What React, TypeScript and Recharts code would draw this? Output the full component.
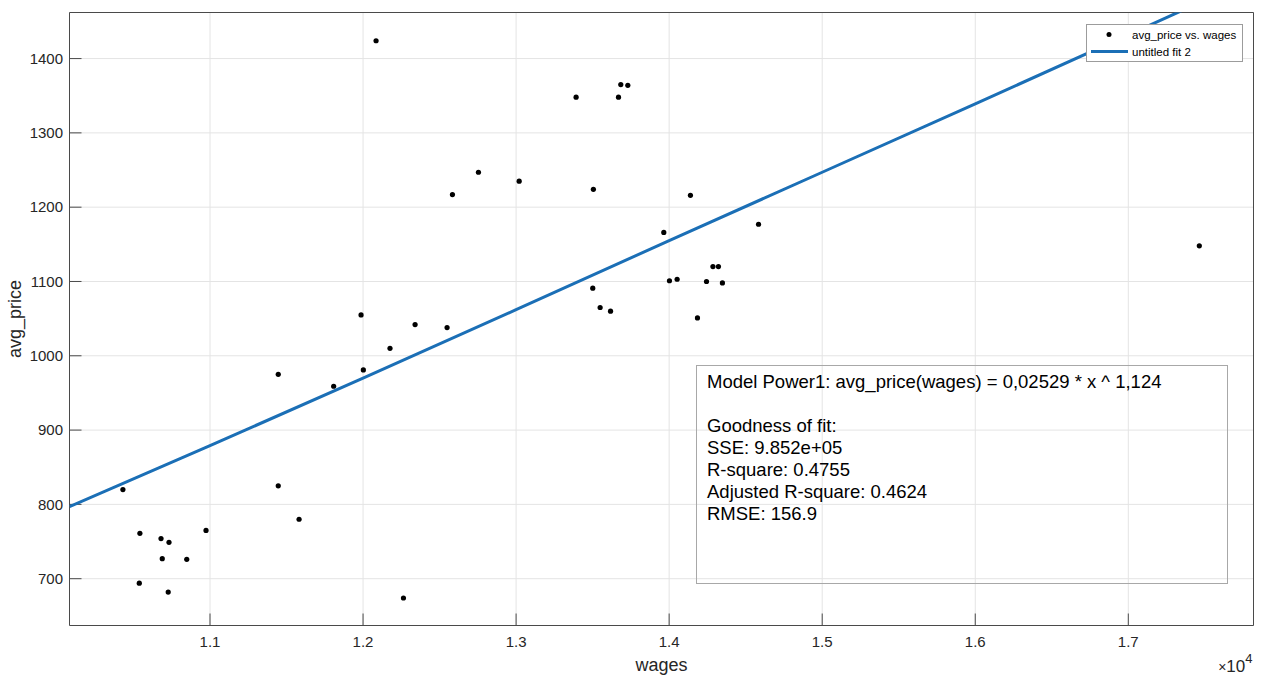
import React from 'react';
import { ScatterChart, Scatter, XAxis, YAxis, CartesianGrid, Legend } from 'recharts';

const wages = [10431, 10542, 10538, 10680, 10732, 10688, 10727, 10848, 10974, 11446, 11446, 11582, 11808, 12002, 12176, 12340, 12264, 12085, 12584, 12754, 13020, 13392, 13669, 13684, 13730, 13505, 14139, 13965, 14584, 13501, 13549, 13617, 14002, 14052, 14185, 14244, 14286, 14322, 14348, 17464, 11987, 12549];
const avgPrice = [820, 761, 694, 754, 749, 727, 682, 726, 765, 975, 825, 780, 959, 981, 1010, 1042, 674, 1424, 1217, 1247, 1235, 1348, 1348, 1365, 1364, 1224, 1216, 1166, 1177, 1091, 1065, 1060, 1101, 1103, 1051, 1100, 1120, 1120, 1098, 1148, 1055, 1038];

// Fitted curve
const fitWages = [10082, 11000, 12000, 13000, 14000, 15000, 16000, 17000, 17818];
const fitPrice = [797, 879, 970, 1062, 1155, 1247, 1339, 1432, 1508];

const xTicks = [11000, 12000, 13000, 14000, 15000, 16000, 17000];
const yTicks = [700, 800, 900, 1000, 1100, 1200, 1300, 1400];
const xDomain = [10082, 17818];
const yDomain = [637, 1462];

const seriesNames = ['avg_price vs. wages', 'untitled fit 2'];
const statLines = [
  'Model Power1: avg_price(wages) = 0,02529 * x ^ 1,124',
  '',
  'Goodness of fit:',
  'SSE: 9.852e+05',
  'R-square: 0.4755',
  'Adjusted R-square: 0.4624',
  'RMSE: 156.9',
];

const points = wages.map((w, i) => ({ x: w, y: avgPrice[i] }));
const fit = fitWages.map((w, i) => ({ x: w, y: fitPrice[i] }));

const FONT = '"Liberation Sans", Arial, Helvetica, sans-serif';
const AXIS = '#4a4a4a';
const BLUE = '#1b6fb6';

const Dot = (props: any) => <circle cx={props.cx} cy={props.cy} r={2.6} fill="#000" />;
const NoShape = () => <g />;

const renderLegend = (props: any) => {
  const payload = props.payload || [];
  return (
    <div
      style={{
        boxSizing: 'border-box',
        width: 157,
        height: 38,
        border: '1px solid #9c9c9c',
        background: '#fff',
        padding: '1px 0',
        fontSize: 11.5,
        color: '#000',
        fontFamily: FONT,
      }}
    >
      {payload.map((entry: any, i: number) => (
        <div key={i} style={{ display: 'flex', alignItems: 'center', height: 17, whiteSpace: 'nowrap' }}>
          <svg width={45} height={17} style={{ flex: 'none' }}>
            {entry.type === 'line' ? (
              <line x1={4} x2={41} y1={8.5} y2={8.5} stroke={BLUE} strokeWidth={3} />
            ) : (
              <circle cx={22} cy={8.5} r={2.5} fill="#000" />
            )}
          </svg>
          <span>{entry.value}</span>
        </div>
      ))}
    </div>
  );
};

const xLabel = (props: any) => {
  const vb = props.viewBox || {};
  return (
    <g>
      <text x={vb.x + vb.width / 2} y={vb.y + 45} textAnchor="middle" fontSize={18} fill="#262626">
        wages
      </text>
      <text x={vb.x + vb.width - 1} y={vb.y + 46} textAnchor="end" fill="#262626">
        <tspan fontSize={14}>×</tspan>
        <tspan fontSize={17}>10</tspan>
        <tspan fontSize={13} dy={-9}>4</tspan>
      </text>
    </g>
  );
};

const yLabel = (props: any) => {
  const vb = props.viewBox || {};
  const cx = vb.x + 20.5;
  const cy = vb.y + vb.height / 2;
  return (
    <text x={cx} y={cy} textAnchor="middle" fontSize={18} fill="#262626" transform={`rotate(-90 ${cx} ${cy})`}>
      avg_price
    </text>
  );
};

export default function App() {
  return (
    <div style={{ position: 'absolute', left: 0, top: 0, width: 1261, height: 676, fontFamily: FONT, background: '#fff' }}>
      <ScatterChart width={1261} height={676} margin={{ top: 10.5, right: 0.5, bottom: 0, left: 0.5 }}>
        <CartesianGrid xAxisId="b" yAxisId="l" stroke="#e4e4e4" strokeWidth={1} />
        <XAxis
          xAxisId="b"
          dataKey="x"
          type="number"
          orientation="bottom"
          domain={xDomain}
          ticks={xTicks}
          allowDataOverflow
          height={50.5}
          stroke={AXIS}
          tickSize={-12}
          tickMargin={23}
          tick={{ fill: '#262626', fontSize: 15 }}
          tickFormatter={(v: number) => (v / 10000).toFixed(1)}
          label={xLabel}
        />
        <XAxis
          xAxisId="t"
          dataKey="x"
          type="number"
          orientation="top"
          domain={xDomain}
          ticks={xTicks}
          allowDataOverflow
          height={2}
          stroke={AXIS}
          tickSize={-12}
          tick={false}
        />
        <YAxis
          yAxisId="l"
          dataKey="y"
          type="number"
          orientation="left"
          domain={yDomain}
          ticks={yTicks}
          allowDataOverflow
          width={69}
          stroke={AXIS}
          tickSize={-12}
          tickMargin={18.5}
          tick={{ fill: '#262626', fontSize: 15 }}
          label={yLabel}
        />
        <YAxis
          yAxisId="r"
          dataKey="y"
          type="number"
          orientation="right"
          domain={yDomain}
          ticks={yTicks}
          allowDataOverflow
          width={7}
          stroke={AXIS}
          tickSize={-12}
          tick={false}
        />
        <Scatter
          name={seriesNames[0]}
          data={points}
          xAxisId="b"
          yAxisId="l"
          fill="#000"
          shape={Dot}
          legendType="circle"
          isAnimationActive={false}
        />
        <Scatter
          name={seriesNames[1]}
          data={fit}
          xAxisId="t"
          yAxisId="r"
          fill={BLUE}
          line={{ stroke: BLUE, strokeWidth: 3 }}
          lineType="joint"
          shape={NoShape}
          legendType="line"
          isAnimationActive={false}
        />
        <Legend
          layout="vertical"
          align="center"
          verticalAlign="middle"
          content={renderLegend}
          wrapperStyle={{ top: 24, left: 1086, width: 157, height: 38 }}
        />
      </ScatterChart>
      <div
        style={{
          position: 'absolute',
          left: 696,
          top: 365,
          width: 532,
          height: 219,
          boxSizing: 'border-box',
          border: '1px solid #a8a8a8',
          padding: '5px 0 0 10px',
          fontSize: 18.5,
          lineHeight: '22px',
          color: '#000',
          whiteSpace: 'pre',
        }}
      >
        {statLines.map((s, i) => (
          <div key={i}>{s === '' ? '\u00a0' : s}</div>
        ))}
      </div>
    </div>
  );
}
